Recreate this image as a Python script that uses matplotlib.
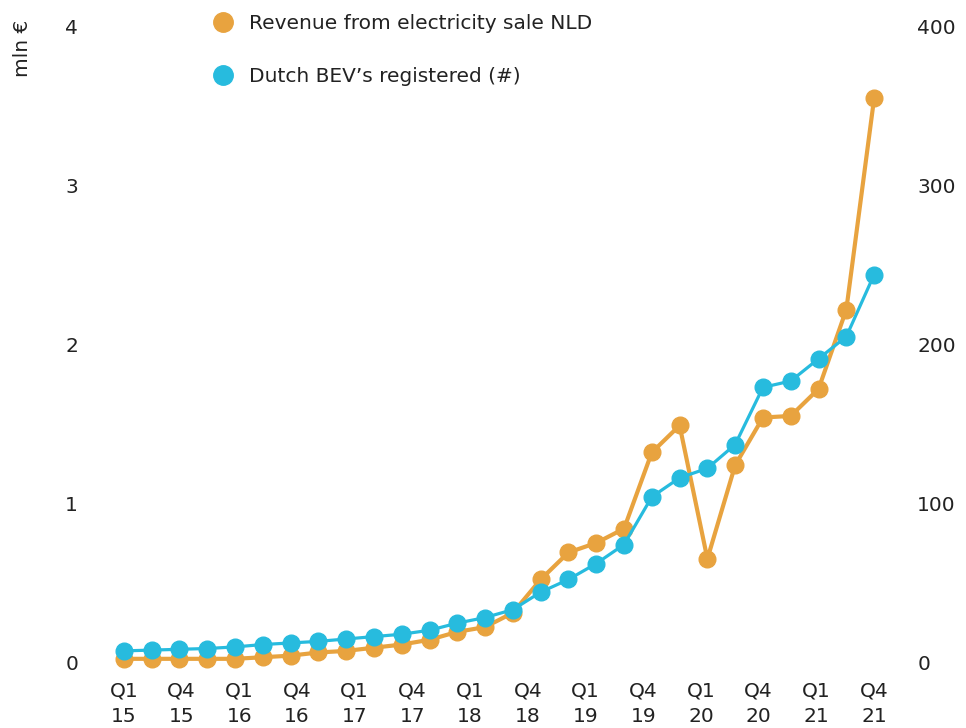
import numpy as np
import matplotlib.pyplot as plt
from matplotlib.lines import Line2D

plt.rcParams['font.family'] = ['DejaVu Sans']

# quarterly series, Q1 2015 .. Q4 2021
revenue_mln = [0.02, 0.02, 0.02, 0.02, 0.02, 0.03, 0.04, 0.06, 0.07, 0.09,
               0.11, 0.14, 0.19, 0.22, 0.31, 0.52, 0.69, 0.75, 0.84, 1.32,
               1.49, 0.65, 1.24, 1.54, 1.55, 1.72, 2.22, 3.55]
bev_registered = [7, 7.5, 8, 8.5, 9.5, 11, 12, 13, 14.5, 16,
                  17.5, 20, 24.5, 28, 33, 44, 52, 62, 74, 104,
                  116, 122, 137, 173, 177, 191, 205, 244]
tick_labels = ["Q1\n15", "Q4\n15", "Q1\n16", "Q4\n16", "Q1\n17", "Q4\n17",
               "Q1\n18", "Q4\n18", "Q1\n19", "Q4\n19", "Q1\n20", "Q4\n20",
               "Q1\n21", "Q4\n21"]
left_ticks = [0, 1, 2, 3, 4]
right_ticks = [0, 100, 200, 300, 400]

ORANGE = "#E8A33F"
BLUE = "#27BBDE"
TEXT = "#222222"

W, H = 966, 728
fig = plt.figure(figsize=(W / 100, H / 100), dpi=100)
# axes box in pixels: x from 110 to 888, y from 27 (top) to 662 (bottom)
ax = fig.add_axes([110 / W, (H - 662) / H, (888 - 110) / W, (662 - 27) / H])
ax2 = ax.twinx()

x = np.arange(len(revenue_mln))
ax.plot(x, revenue_mln, color=ORANGE, lw=3, marker="o", ms=12,
        clip_on=False, solid_joinstyle="round")
ax2.plot(x, bev_registered, color=BLUE, lw=2.3, marker="o", ms=12,
         clip_on=False, solid_joinstyle="round")

ax.set_xlim(-0.5, len(x) - 0.5)
ax.set_ylim(0, 4)
ax2.set_ylim(0, 400)

ax.set_xticks(np.linspace(0, len(x) - 1, len(tick_labels)))
ax.set_xticklabels(tick_labels, linespacing=1.45)
ax.set_yticks(left_ticks)
ax2.set_yticks(right_ticks)

for a in (ax, ax2):
    for s in a.spines.values():
        s.set_visible(False)
    a.tick_params(length=0, labelsize=14.5, labelcolor=TEXT)
# pads are in points (0.72 pt per pixel at 100 dpi)
ax.tick_params(axis="y", pad=23)
ax2.tick_params(axis="y", pad=21)
ax.tick_params(axis="x", pad=14)

fig.text(22 / W, 1 - 48 / H, "mln €", rotation=90, ha="center", va="center",
         fontsize=14.5, color=TEXT)

handles = [Line2D([], [], ls="none", marker="o", ms=14, color=ORANGE),
           Line2D([], [], ls="none", marker="o", ms=14, color=BLUE)]
fig.legend(handles, ["Revenue from electricity sale NLD",
                     "Dutch BEV’s registered (#)"],
           loc="upper left", bbox_to_anchor=(205 / W, 1 - 6 / H),
           frameon=False, fontsize=14.5, labelcolor=TEXT, handlelength=1.0,
           handletextpad=0.8, labelspacing=1.7, borderaxespad=0)

fig.savefig("out.png", dpi=100, facecolor="white")
